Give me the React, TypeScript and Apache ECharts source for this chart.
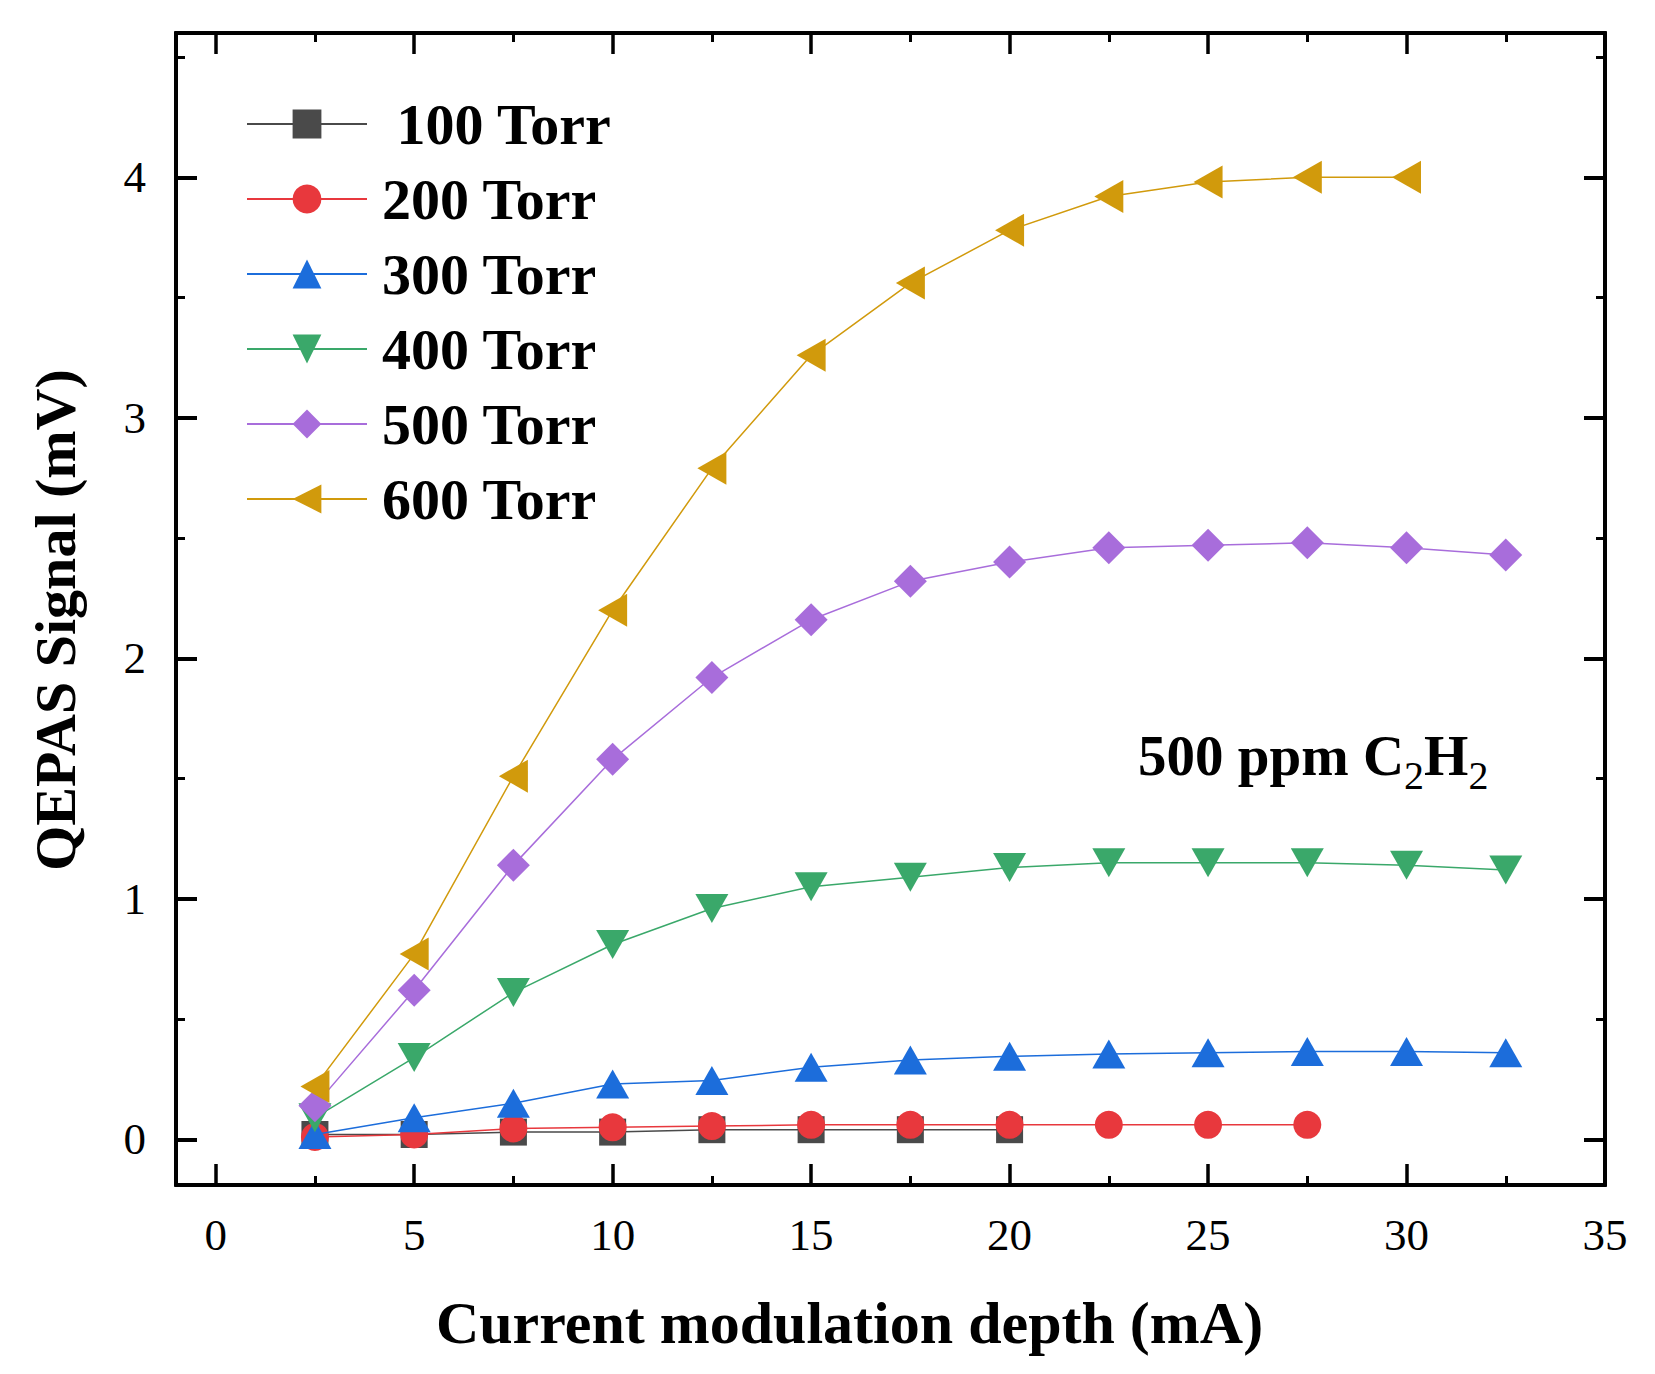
import React, { useEffect, useRef } from "react";
import * as echarts from "echarts";

const xValues = [2.5, 5, 7.5, 10, 12.5, 15, 17.5, 20, 22.5, 25, 27.5, 30, 32.5];
const seriesNames = ["100 Torr", "200 Torr", "300 Torr", "400 Torr", "500 Torr", "600 Torr"];
const torr100 = [0.02, 0.02, 0.03, 0.03, 0.04, 0.04, 0.04, 0.04];
const torr200 = [0.01, 0.02, 0.045, 0.05, 0.055, 0.06, 0.06, 0.06, 0.06, 0.06, 0.06];
const torr300 = [0.02, 0.09, 0.15, 0.23, 0.245, 0.3, 0.33, 0.345, 0.355, 0.36, 0.365, 0.365, 0.36];
const torr400 = [0.09, 0.34, 0.61, 0.81, 0.96, 1.05, 1.09, 1.13, 1.15, 1.15, 1.15, 1.14, 1.12];
const torr500 = [0.14, 0.62, 1.14, 1.58, 1.92, 2.16, 2.32, 2.4, 2.46, 2.47, 2.48, 2.46, 2.43];
const torr600 = [0.22, 0.77, 1.51, 2.2, 2.79, 3.26, 3.56, 3.78, 3.92, 3.98, 4.0, 4.0];
const xTickValues = [0, 5, 10, 15, 20, 25, 30, 35];
const xMinorValues = [2.5, 7.5, 12.5, 17.5, 22.5, 27.5, 32.5];
const yTickValues = [0, 1, 2, 3, 4];
const yMinorValues = [0.5, 1.5, 2.5, 3.5, 4.5];

const colors = ["#4a4a4a", "#e8383d", "#1c6ddb", "#3aa86a", "#a86ddb", "#d19a0c"];
const symbols = [
  "rect",
  "circle",
  "triangle",
  "path://M0,0 L10,0 L5,9 Z",
  "diamond",
  "path://M0,5 L9,0 L9,10 Z",
];
const symbolSizes: any[] = [27, 28, [33, 29], [33, 29], 33, [29, 33]];

const FONT = "'Times New Roman', 'Liberation Serif', serif";

export default function App() {
  const ref = useRef<HTMLDivElement>(null);
  useEffect(() => {
    document.body.style.margin = "0";
    const chart = echarts.init(ref.current!, null, { renderer: "svg" });
    const allData = [torr100, torr200, torr300, torr400, torr500, torr600];
    const xMin = -1, xMax = 35, yMin = -0.19, yMax = 4.6;
    const axisLine = { show: true, onZero: false, lineStyle: { color: "#000", width: 4 } };
    const mkX = (pos: string, minor: boolean, labels: boolean) => ({
      type: "value",
      position: pos,
      offset: 0,
      min: xMin,
      max: xMax,
      axisLine,
      splitLine: { show: false },
      axisTick: {
        show: true,
        inside: true,
        length: minor ? 9 : 21,
        lineStyle: { color: "#000", width: minor ? 3 : 3.5 },
        customValues: minor ? xMinorValues : xTickValues,
      },
      axisLabel: labels
        ? {
            show: true,
            customValues: xTickValues,
            fontFamily: FONT,
            fontSize: 45,
            color: "#000",
            margin: 27,
          }
        : { show: false },
      ...(labels
        ? {
            name: "Current modulation depth (mA)",
            nameLocation: "middle",
            nameGap: 108,
            nameTextStyle: {
              fontFamily: FONT,
              fontSize: 60,
              fontWeight: "bold",
              color: "#000",
              padding: [0, 82, 0, 0],
            },
          }
        : {}),
    });
    const mkY = (pos: string, minor: boolean, labels: boolean) => ({
      type: "value",
      position: pos,
      offset: 0,
      min: yMin,
      max: yMax,
      axisLine,
      splitLine: { show: false },
      axisTick: {
        show: true,
        inside: true,
        length: minor ? 9 : 21,
        lineStyle: { color: "#000", width: minor ? 3 : 4 },
        customValues: minor ? yMinorValues : yTickValues,
      },
      axisLabel: labels
        ? {
            show: true,
            customValues: yTickValues,
            fontFamily: FONT,
            fontSize: 45,
            color: "#000",
            margin: 30,
          }
        : { show: false },
      ...(labels
        ? {
            name: "QEPAS Signal (mV)",
            nameLocation: "middle",
            nameRotate: 90,
            nameGap: 92,
            nameTextStyle: {
              fontFamily: FONT,
              fontSize: 58,
              fontWeight: "bold",
              color: "#000",
              padding: [0, 22, 0, 0],
            },
          }
        : {}),
    });
    const series = allData.map((vals, i) => ({
      name: seriesNames[i],
      type: "line",
      xAxisIndex: 0,
      yAxisIndex: 0,
      data: vals.map((v, j) => [xValues[j], v]),
      symbol: symbols[i],
      symbolSize: symbolSizes[i],
      showSymbol: true,
      lineStyle: { color: colors[i], width: 1.5 },
      itemStyle: { color: colors[i] },
      z: 2 + i,
    }));
    chart.setOption({
      animation: false,
      backgroundColor: "#fff",
      grid: { left: 176, right: 50, top: 33, bottom: 189, containLabel: false },
      xAxis: [mkX("bottom", false, true), mkX("bottom", true, false), mkX("top", false, false), mkX("top", true, false)],
      yAxis: [mkY("left", false, true), mkY("left", true, false), mkY("right", false, false), mkY("right", true, false)],
      legend: {
        orient: "vertical",
        left: 246,
        top: 95,
        padding: 0,
        itemWidth: 120,
        itemHeight: 36,
        itemGap: 17,
        selectedMode: false,
        data: seriesNames,
        formatter: (n: string) => (n === "100 Torr" ? " 100 Torr" : n),
        textStyle: {
          fontFamily: FONT,
          fontSize: 58,
          fontWeight: "bold",
          color: "#000",
          padding: [0, 0, 0, 10],
        },
      },
      graphic: [
        {
          type: "text",
          left: 1138,
          top: 727,
          style: {
            text: "{a|500 ppm C}{s|2}{a|H}{s|2}",
            rich: {
              a: { fontFamily: FONT, fontSize: 57, fontWeight: "bold", color: "#000", lineHeight: 60, verticalAlign: "top" },
              s: { fontFamily: FONT, fontSize: 40, fontWeight: "normal", color: "#000", lineHeight: 68, verticalAlign: "bottom" },
            },
          },
        },
      ],
      series,
    });
    return () => chart.dispose();
  }, []);
  return <div ref={ref} style={{ width: 1655, height: 1374 }} />;
}
